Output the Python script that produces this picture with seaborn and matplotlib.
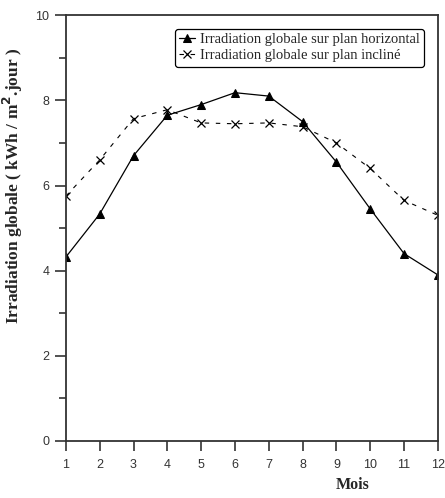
import matplotlib
matplotlib.use("Agg")
import matplotlib.pyplot as plt
from matplotlib.ticker import MultipleLocator
import pandas as pd
import seaborn as sns

mois = [1, 2, 3, 4, 5, 6, 7, 8, 9, 10, 11, 12]
horizontal = [4.32, 5.33, 6.7, 7.65, 7.9, 8.18, 8.1, 7.5, 6.55, 5.45, 4.4, 3.9]
incline = [5.75, 6.6, 7.57, 7.78, 7.47, 7.45, 7.47, 7.38, 7.0, 6.4, 5.65, 5.3]
lab_h = "Irradiation globale sur plan horizontal"
lab_i = "Irradiation globale sur plan incliné"

df = pd.DataFrame({"mois": mois, "h": horizontal, "i": incline})

sns.set_style("ticks")
fig = plt.figure(figsize=(4.45, 4.98), dpi=100)
ax = fig.add_axes([0.148, 0.1145, 0.836, 0.855])

sns.lineplot(data=df, x="mois", y="h", ax=ax, color="black", lw=0.9,
             marker="^", markersize=6, markeredgecolor="black", label=lab_h)
sns.lineplot(data=df, x="mois", y="i", ax=ax, color="black", lw=0.8,
             linestyle=(0, (4, 6)), marker="x", markersize=6, mew=0.9,
             markeredgecolor="black", label=lab_i)

ax.set_xlim(1, 12)
ax.set_ylim(0, 10)
ax.set_xticks(mois)
ax.yaxis.set_major_locator(MultipleLocator(2))
ax.yaxis.set_minor_locator(MultipleLocator(1))
for s in ax.spines.values():
    s.set_linewidth(1.3)
    s.set_color("#333333")
ax.tick_params(axis="both", which="both", direction="out", width=1.2, colors="#333333")
ax.tick_params(axis="x", length=7, pad=6)
ax.tick_params(axis="y", which="major", length=8, pad=4)
ax.tick_params(axis="y", which="minor", length=5)
for t in ax.get_xticklabels() + ax.get_yticklabels():
    t.set_fontfamily("Liberation Sans")
    t.set_fontsize(9)
    t.set_color("#333333")

ax.set_xlabel("Mois", fontfamily="Liberation Serif", fontweight="bold", fontsize=11.5)
ax.xaxis.set_label_coords(0.77, -0.085)
ax.set_ylabel("Irradiation globale ( kWh / m$^\\mathbf{2}$.jour )",
              fontfamily="Liberation Serif", fontweight="bold", fontsize=12.5)
ax.yaxis.set_label_coords(-0.11, 0.6)

leg = ax.legend(loc="upper right", bbox_to_anchor=(0.97, 0.975),
                prop={"family": "Liberation Serif", "size": 10.5},
                frameon=True, fancybox=True, handlelength=1.1,
                handletextpad=0.3, borderpad=0.3, labelspacing=0.2,
                borderaxespad=0.2)
leg.get_frame().set_edgecolor("black")
leg.get_frame().set_linewidth(0.9)
leg.get_frame().set_alpha(1)

fig.savefig("out.png", dpi=100)
